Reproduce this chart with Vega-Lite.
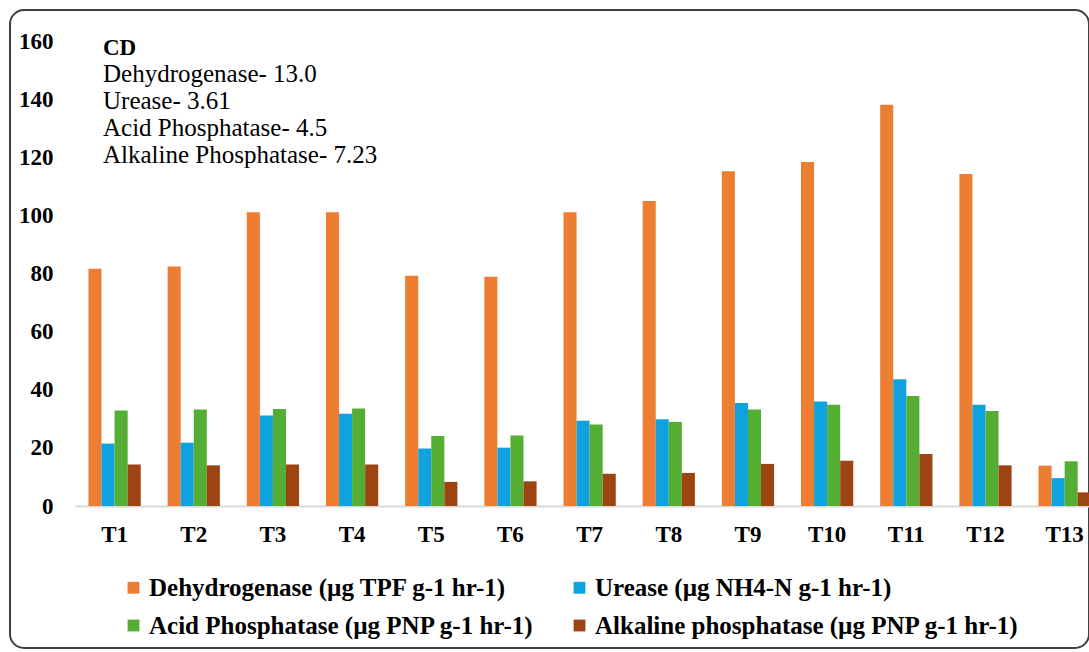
{
  "$schema": "https://vega.github.io/schema/vega-lite/v6.json",
  "autosize": {"type": "none"},
  "width": 1079,
  "height": 638,
  "padding": {"top": 10, "left": 10, "right": 0, "bottom": 4},
  "background": "white",
  "config": {
    "view": {"stroke": "#404040", "strokeWidth": 2, "cornerRadius": 14},
    "font": "Liberation Serif"
  },
  "title": {
    "text": "CD",
    "subtitle": ["Dehydrogenase- 13.0", "Urease- 3.61", "Acid Phosphatase- 4.5", "Alkaline Phosphatase- 7.23"],
    "anchor": "start",
    "frame": "group",
    "orient": "top",
    "dx": 93,
    "offset": -158,
    "font": "Liberation Serif",
    "fontSize": 23,
    "fontWeight": "bold",
    "color": "black",
    "subtitleFont": "Liberation Serif",
    "subtitleFontSize": 25,
    "subtitleFontWeight": "normal",
    "subtitleColor": "black",
    "subtitleLineHeight": 27,
    "subtitlePadding": 2
  },
  "data": {
    "values": [
      {"t": "T1", "enzyme": "Dehydrogenase (µg TPF g-1 hr-1)", "value": 81.7},
      {"t": "T1", "enzyme": "Urease (µg NH4-N g-1 hr-1)", "value": 21.5},
      {"t": "T1", "enzyme": "Acid Phosphatase (µg PNP g-1 hr-1)", "value": 32.9},
      {"t": "T1", "enzyme": "Alkaline phosphatase (µg PNP g-1 hr-1)", "value": 14.3},
      {"t": "T2", "enzyme": "Dehydrogenase (µg TPF g-1 hr-1)", "value": 82.5},
      {"t": "T2", "enzyme": "Urease (µg NH4-N g-1 hr-1)", "value": 21.8},
      {"t": "T2", "enzyme": "Acid Phosphatase (µg PNP g-1 hr-1)", "value": 33.2},
      {"t": "T2", "enzyme": "Alkaline phosphatase (µg PNP g-1 hr-1)", "value": 14.0},
      {"t": "T3", "enzyme": "Dehydrogenase (µg TPF g-1 hr-1)", "value": 101.2},
      {"t": "T3", "enzyme": "Urease (µg NH4-N g-1 hr-1)", "value": 31.2},
      {"t": "T3", "enzyme": "Acid Phosphatase (µg PNP g-1 hr-1)", "value": 33.4},
      {"t": "T3", "enzyme": "Alkaline phosphatase (µg PNP g-1 hr-1)", "value": 14.3},
      {"t": "T4", "enzyme": "Dehydrogenase (µg TPF g-1 hr-1)", "value": 101.2},
      {"t": "T4", "enzyme": "Urease (µg NH4-N g-1 hr-1)", "value": 31.8},
      {"t": "T4", "enzyme": "Acid Phosphatase (µg PNP g-1 hr-1)", "value": 33.6},
      {"t": "T4", "enzyme": "Alkaline phosphatase (µg PNP g-1 hr-1)", "value": 14.3},
      {"t": "T5", "enzyme": "Dehydrogenase (µg TPF g-1 hr-1)", "value": 79.3},
      {"t": "T5", "enzyme": "Urease (µg NH4-N g-1 hr-1)", "value": 19.8},
      {"t": "T5", "enzyme": "Acid Phosphatase (µg PNP g-1 hr-1)", "value": 24.1},
      {"t": "T5", "enzyme": "Alkaline phosphatase (µg PNP g-1 hr-1)", "value": 8.3},
      {"t": "T6", "enzyme": "Dehydrogenase (µg TPF g-1 hr-1)", "value": 79.0},
      {"t": "T6", "enzyme": "Urease (µg NH4-N g-1 hr-1)", "value": 20.1},
      {"t": "T6", "enzyme": "Acid Phosphatase (µg PNP g-1 hr-1)", "value": 24.3},
      {"t": "T6", "enzyme": "Alkaline phosphatase (µg PNP g-1 hr-1)", "value": 8.5},
      {"t": "T7", "enzyme": "Dehydrogenase (µg TPF g-1 hr-1)", "value": 101.2},
      {"t": "T7", "enzyme": "Urease (µg NH4-N g-1 hr-1)", "value": 29.4},
      {"t": "T7", "enzyme": "Acid Phosphatase (µg PNP g-1 hr-1)", "value": 28.1},
      {"t": "T7", "enzyme": "Alkaline phosphatase (µg PNP g-1 hr-1)", "value": 11.1},
      {"t": "T8", "enzyme": "Dehydrogenase (µg TPF g-1 hr-1)", "value": 105.1},
      {"t": "T8", "enzyme": "Urease (µg NH4-N g-1 hr-1)", "value": 29.9},
      {"t": "T8", "enzyme": "Acid Phosphatase (µg PNP g-1 hr-1)", "value": 28.9},
      {"t": "T8", "enzyme": "Alkaline phosphatase (µg PNP g-1 hr-1)", "value": 11.4},
      {"t": "T9", "enzyme": "Dehydrogenase (µg TPF g-1 hr-1)", "value": 115.3},
      {"t": "T9", "enzyme": "Urease (µg NH4-N g-1 hr-1)", "value": 35.5},
      {"t": "T9", "enzyme": "Acid Phosphatase (µg PNP g-1 hr-1)", "value": 33.2},
      {"t": "T9", "enzyme": "Alkaline phosphatase (µg PNP g-1 hr-1)", "value": 14.5},
      {"t": "T10", "enzyme": "Dehydrogenase (µg TPF g-1 hr-1)", "value": 118.5},
      {"t": "T10", "enzyme": "Urease (µg NH4-N g-1 hr-1)", "value": 36.0},
      {"t": "T10", "enzyme": "Acid Phosphatase (µg PNP g-1 hr-1)", "value": 34.9},
      {"t": "T10", "enzyme": "Alkaline phosphatase (µg PNP g-1 hr-1)", "value": 15.6},
      {"t": "T11", "enzyme": "Dehydrogenase (µg TPF g-1 hr-1)", "value": 138.2},
      {"t": "T11", "enzyme": "Urease (µg NH4-N g-1 hr-1)", "value": 43.7},
      {"t": "T11", "enzyme": "Acid Phosphatase (µg PNP g-1 hr-1)", "value": 37.9},
      {"t": "T11", "enzyme": "Alkaline phosphatase (µg PNP g-1 hr-1)", "value": 17.9},
      {"t": "T12", "enzyme": "Dehydrogenase (µg TPF g-1 hr-1)", "value": 114.4},
      {"t": "T12", "enzyme": "Urease (µg NH4-N g-1 hr-1)", "value": 34.9},
      {"t": "T12", "enzyme": "Acid Phosphatase (µg PNP g-1 hr-1)", "value": 32.7},
      {"t": "T12", "enzyme": "Alkaline phosphatase (µg PNP g-1 hr-1)", "value": 14.0},
      {"t": "T13", "enzyme": "Dehydrogenase (µg TPF g-1 hr-1)", "value": 13.9},
      {"t": "T13", "enzyme": "Urease (µg NH4-N g-1 hr-1)", "value": 9.6},
      {"t": "T13", "enzyme": "Acid Phosphatase (µg PNP g-1 hr-1)", "value": 15.4},
      {"t": "T13", "enzyme": "Alkaline phosphatase (µg PNP g-1 hr-1)", "value": 4.7}
    ]
  },
  "mark": {"type": "bar"},
  "encoding": {
    "x": {
      "field": "t",
      "type": "nominal",
      "sort": ["T1","T2","T3","T4","T5","T6","T7","T8","T9","T10","T11","T12","T13"],
      "scale": {"range": [65, 1094.25], "paddingInner": 0.34, "paddingOuter": 0.17},
      "axis": {
        "title": null,
        "orient": "bottom",
        "offset": -142,
        "labelAngle": 0,
        "domain": true,
        "domainColor": "#d9d9d9",
        "domainWidth": 2,
        "ticks": false,
        "tickSize": 0,
        "labelPadding": 17,
        "labelFont": "Liberation Serif",
        "labelFontSize": 23,
        "labelFontWeight": "bold",
        "labelColor": "black"
      }
    },
    "xOffset": {
      "field": "enzyme",
      "type": "nominal",
      "sort": ["Dehydrogenase (µg TPF g-1 hr-1)", "Urease (µg NH4-N g-1 hr-1)", "Acid Phosphatase (µg PNP g-1 hr-1)", "Alkaline phosphatase (µg PNP g-1 hr-1)"],
      "scale": {"paddingInner": 0, "paddingOuter": 0}
    },
    "y": {
      "field": "value",
      "type": "quantitative",
      "scale": {"domain": [0, 160], "range": [496, 31.5], "nice": false, "zero": true},
      "axis": {
        "title": null,
        "values": [0, 20, 40, 60, 80, 100, 120, 140, 160],
        "domain": false,
        "ticks": false,
        "tickSize": 0,
        "grid": false,
        "labelPadding": -43,
        "labelFont": "Liberation Serif",
        "labelFontSize": 23,
        "labelFontWeight": "bold",
        "labelColor": "black"
      }
    },
    "color": {
      "field": "enzyme",
      "type": "nominal",
      "sort": ["Dehydrogenase (µg TPF g-1 hr-1)", "Urease (µg NH4-N g-1 hr-1)", "Acid Phosphatase (µg PNP g-1 hr-1)", "Alkaline phosphatase (µg PNP g-1 hr-1)"],
      "scale": {"range": ["#ED7D31", "#10A2DE", "#53AE33", "#9C4512"]},
      "legend": {
        "title": null,
        "orient": "none",
        "legendX": 111,
        "legendY": 565,
        "columns": 2,
        "direction": "horizontal",
        "padding": 0,
        "columnPadding": 33,
        "rowPadding": 12,
        "symbolType": "square",
        "symbolSize": 140,
        "symbolStrokeWidth": 0,
        "labelOffset": 3,
        "labelFont": "Liberation Serif",
        "labelFontSize": 25,
        "labelFontWeight": "bold",
        "labelColor": "black",
        "labelLimit": 600
      }
    }
  }
}
